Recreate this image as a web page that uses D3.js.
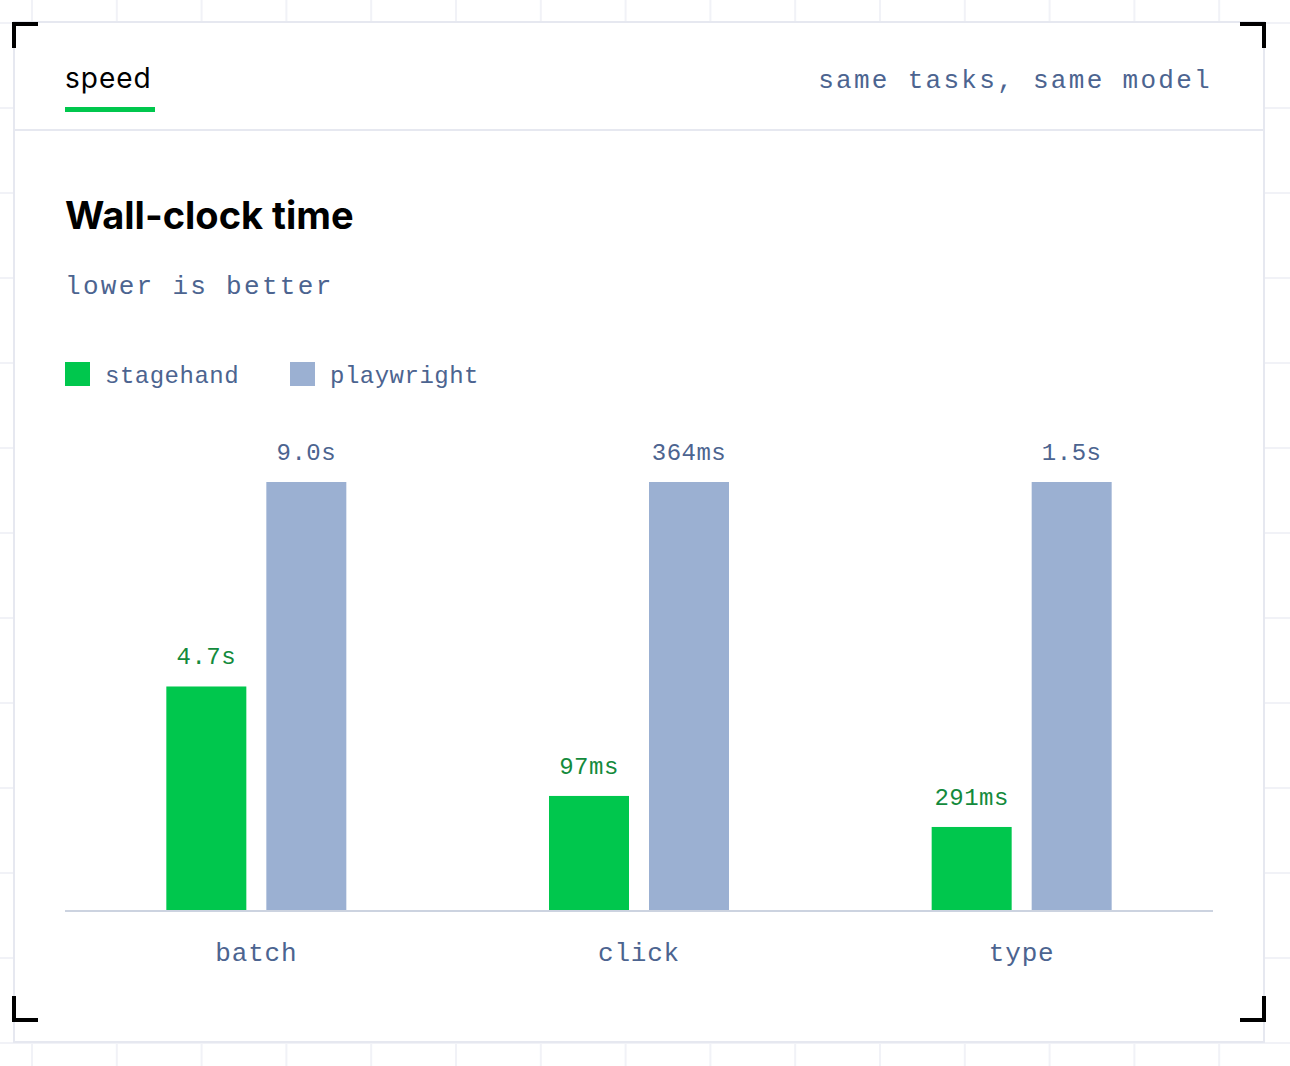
<!DOCTYPE html><html><head><meta charset="utf-8"><script src="https://cdn.jsdelivr.net/npm/d3@7"></script>
<style>body{margin:0;background:#fff;}svg{display:block}</style></head><body><svg id="c" width="1290" height="1066"></svg>
<script>
const categories=["batch","click","type"];
const series=["stagehand","playwright"];
const stagehandMs=[4700,97,291];
const playwrightMs=[9000,364,1500];
const stagehandLabels=["4.7s","97ms","291ms"];
const playwrightLabels=["9.0s","364ms","1.5s"];
const colors={stagehand:"#00c74d",playwright:"#9bb0d2"};
const mono="'Liberation Mono','DejaVu Sans Mono',monospace";
const sans="Inter,'Noto Sans',sans-serif";
const svg=d3.select("#c");
// background grid
const g0=svg.append("g").attr("stroke","#f1f2f7").attr("stroke-width",2);
for(let x=32;x<1290;x+=84.8)g0.append("line").attr("x1",x).attr("x2",x).attr("y1",0).attr("y2",1066);
for(let y=23;y<1066;y+=85)g0.append("line").attr("y1",y).attr("y2",y).attr("x1",0).attr("x2",1290);
svg.append("rect").attr("x",14).attr("y",22).attr("width",1250).attr("height",1020).attr("fill","#fff").attr("stroke","#e6e8f0").attr("stroke-width",2);
// corners
const cp=[[12,22,1,1],[1266,22,-1,1],[12,1022,1,-1],[1266,1022,-1,-1]];
cp.forEach(([x,y,sx,sy])=>{svg.append("path").attr("d",`M${x},${y+24*sy}V${y}H${x+24*sx}`).attr("fill","none").attr("stroke","#000").attr("stroke-width",4).attr("transform",`translate(${sx*2},${sy*2})`);});
svg.append("line").attr("x1",14).attr("x2",1264).attr("y1",130).attr("y2",130).attr("stroke","#e6e8f0").attr("stroke-width",2);
svg.append("text").attr("x",65).attr("y",88).attr("font-family",sans).attr("font-size",28).attr("letter-spacing",1).text("speed");
svg.append("rect").attr("x",65).attr("y",107).attr("width",90).attr("height",5).attr("fill","#00c74d");
svg.append("text").attr("x",1212).attr("y",88).attr("text-anchor","end").attr("font-family",mono).attr("font-size",26).attr("letter-spacing",2.3).attr("fill","#4c6490").text("same tasks, same model");
svg.append("text").attr("x",65).attr("y",229).attr("font-family",sans).attr("font-weight",700).attr("font-size",38).text("Wall-clock time");
svg.append("text").attr("x",65).attr("y",294).attr("font-family",mono).attr("font-size",26).attr("letter-spacing",2.3).attr("fill","#4c6490").text("lower is better");
// legend
[["stagehand",65,105],["playwright",290,330]].forEach(([s,rx,tx])=>{
 svg.append("rect").attr("x",rx).attr("y",362).attr("width",25).attr("height",24).attr("fill",colors[s]);
 svg.append("text").attr("x",tx).attr("y",383).attr("font-family",mono).attr("font-size",24).attr("letter-spacing",0.5).attr("fill","#4c6490").text(s);
});
const x=d3.scaleBand().domain(categories).range([65,1213]);
const xs=d3.scaleBand().domain(series).range([0,180]).paddingInner(0.2);
const y=d3.scaleLinear().domain([0,1]).range([910,482]);
const data=categories.map((c,i)=>({c,vals:[{s:"stagehand",v:stagehandMs[i],l:stagehandLabels[i]},{s:"playwright",v:playwrightMs[i],l:playwrightLabels[i]}],max:Math.max(stagehandMs[i],playwrightMs[i])}));
data.forEach(d=>{
 const gx=x(d.c)+x.bandwidth()/2-90;
 d.vals.forEach(b=>{
  const f=b.v/d.max;
  svg.append("rect").attr("x",gx+xs(b.s)).attr("y",y(f)).attr("width",xs.bandwidth()).attr("height",y(0)-y(f)).attr("fill",colors[b.s]);
  svg.append("text").attr("x",gx+xs(b.s)+xs.bandwidth()/2).attr("y",y(f)-22).attr("text-anchor","middle").attr("font-family",mono).attr("font-size",24).attr("letter-spacing",0.5).attr("fill",b.s==="stagehand"?"#138a3c":"#4c6490").text(b.l);
 });
});
svg.append("line").attr("x1",65).attr("x2",1213).attr("y1",911).attr("y2",911).attr("stroke","#ccd3e0").attr("stroke-width",2);
const ax=svg.append("g").attr("transform","translate(0,911)").call(d3.axisBottom(x).tickSize(0).tickPadding(32));
ax.select(".domain").remove();
ax.selectAll("text").attr("font-family",mono).attr("font-size",26).attr("letter-spacing",0.8).attr("fill","#4c6490");
</script></body></html>
